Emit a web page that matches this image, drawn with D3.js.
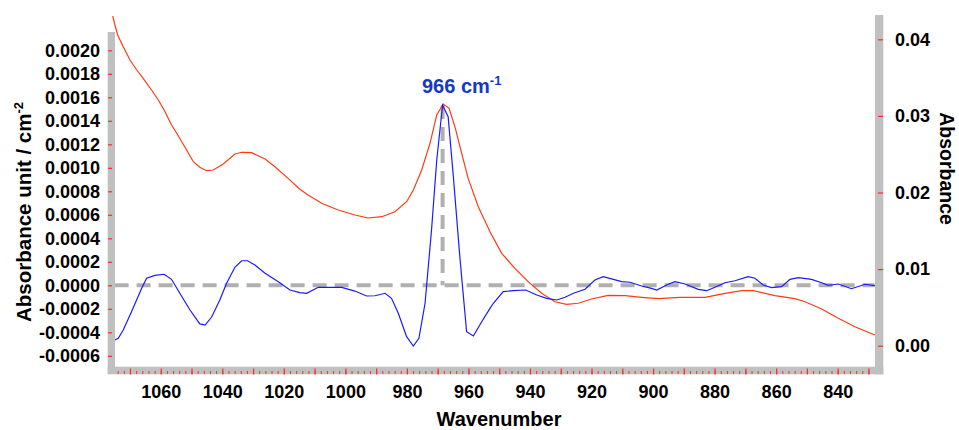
<!DOCTYPE html>
<html><head><meta charset="utf-8">
<script src="https://cdn.jsdelivr.net/npm/d3@7"></script>
<style>
body{margin:0;background:#fff}
svg{display:block}
text{font-family:"Liberation Sans",Arial,Helvetica,sans-serif;font-weight:bold;fill:#000}
</style>
</head><body>
<svg id="chart" width="959" height="430"></svg>
<script>
// ---- data ----
const blueWavenumber = [1074.9,1073.8,1072.2,1069.5,1066.2,1064.6,1061.9,1058.9,1056.5,1053.8,1050.5,1047.3,1045.6,1043.5,1040.8,1038.6,1035.9,1033.7,1031.8,1029.4,1026.1,1021.8,1018.0,1014.8,1012.6,1008.8,1001.2,996.9,993.1,990.4,987.1,985.0,982.8,980.1,977.9,976.1,974.1,972.0,970.3,968.4,966.6,964.9,962.8,960.6,958.4,955.7,953.0,951.9,948.7,945.4,941.4,937.8,934.6,931.3,928.6,925.9,922.1,918.9,916.2,912.9,910.2,907.5,903.7,900.5,898.8,895.6,892.9,889.6,885.3,882.6,879.9,876.6,873.4,869.1,866.9,864.2,861.5,858.2,855.5,852.8,848.5,845.2,843.1,839.8,835.5,831.1,827.9];
const blueValue = [-0.000466,-0.000451,-0.000380,-0.000225,-0.000026,0.000060,0.000085,0.000094,0.000051,-0.000068,-0.000210,-0.000329,-0.000338,-0.000272,-0.000125,0.000017,0.000153,0.000209,0.000209,0.000173,0.000102,0.000031,-0.000040,-0.000063,-0.000068,-0.000017,-0.000017,-0.000049,-0.000091,-0.000089,-0.000068,-0.000111,-0.000238,-0.000437,-0.000517,-0.000451,-0.000153,0.000471,0.001066,0.001534,0.001435,0.000924,0.000243,-0.000395,-0.000431,-0.000310,-0.000196,-0.000153,-0.000054,-0.000046,-0.000040,-0.000083,-0.000111,-0.000125,-0.000102,-0.000068,-0.000034,0.000045,0.000073,0.000051,0.000031,0.000026,-0.000006,-0.000026,-0.000040,0.000003,0.000031,0.000011,-0.000034,-0.000046,-0.000017,0.000022,0.000039,0.000073,0.000060,0.000003,-0.000020,-0.000012,0.000051,0.000065,0.000051,0.000022,0.000000,0.000011,-0.000029,0.000009,-0.000003];

const redWavenumber = [1075.6,1074.9,1074.0,1072.2,1070.0,1067.8,1065.7,1063.0,1060.8,1058.6,1056.5,1054.8,1051.6,1049.4,1047.3,1045.1,1042.9,1039.7,1035.9,1033.7,1030.5,1026.1,1022.9,1018.6,1014.8,1012.1,1007.7,1002.3,996.9,992.6,988.2,983.9,980.1,977.9,975.2,972.5,970.3,968.2,966.3,964.4,962.2,960.1,956.8,953.0,949.2,944.9,940.6,936.2,931.9,928.1,924.3,920.0,914.6,909.1,903.7,898.3,891.3,883.1,876.6,871.2,867.4,860.4,853.9,850.6,845.2,839.8,834.4,827.9];
const redAbsorbance = [0.04304,0.04187,0.04056,0.03903,0.03730,0.03599,0.03491,0.03338,0.03208,0.03055,0.02881,0.02773,0.02555,0.02402,0.02329,0.02285,0.02294,0.02372,0.02503,0.02525,0.02520,0.02437,0.02337,0.02185,0.02042,0.01967,0.01859,0.01772,0.01706,0.01667,0.01684,0.01749,0.01880,0.02033,0.02294,0.02642,0.03012,0.03155,0.03099,0.02859,0.02512,0.02185,0.01815,0.01488,0.01206,0.01010,0.00836,0.00684,0.00574,0.00540,0.00554,0.00610,0.00658,0.00653,0.00632,0.00614,0.00632,0.00632,0.00684,0.00718,0.00718,0.00653,0.00614,0.00574,0.00479,0.00358,0.00248,0.00140];

const leftTicks = [-0.0006,-0.0004,-0.0002,0.0000,0.0002,0.0004,0.0006,0.0008,0.0010,0.0012,0.0014,0.0016,0.0018,0.0020];
const rightTicks = [0.00,0.01,0.02,0.03,0.04];
const bottomTicks = [1060,1040,1020,1000,980,960,940,920,900,880,860,840];
const peakWavenumber = 968.4;
const peakValue = 0.001534;
const peakLabel = "966";

// ---- drawing ----
const svg = d3.select("#chart");
const x = d3.scaleLinear().domain([1075, 828]).range([114.6, 874.6]);
const yL = d3.scaleLinear().domain([0, 0.002]).range([285.3, 50.3]);
const yR = d3.scaleLinear().domain([0, 0.04]).range([345.7, 39.3]);

const fmtL = v => { const s = Math.abs(v) < 1e-12 ? "0.0000" : v.toFixed(4); return s; };
const fmtR = v => v.toFixed(2);

const GRAY = "#c0c0c0", RED_TICK = "#ff2a2a";

// dashed reference lines
const dash = "14,8";
svg.append("line")
  .attr("x1", x(1075)).attr("x2", x(828))
  .attr("y1", yL(0)).attr("y2", yL(0))
  .attr("stroke", "#b0b0b0").attr("stroke-width", 4).attr("stroke-dasharray", dash);
svg.append("line")
  .attr("x1", x(peakWavenumber)).attr("x2", x(peakWavenumber))
  .attr("y1", yL(peakValue)).attr("y2", yL(0))
  .attr("stroke", "#b0b0b0").attr("stroke-width", 4).attr("stroke-dasharray", dash);

// curves
const redLine = d3.line().x(d => x(d[0])).y(d => yR(d[1]));
const blueLine = d3.line().x(d => x(d[0])).y(d => yL(d[1]));
svg.append("path")
  .datum(d3.zip(redWavenumber, redAbsorbance))
  .attr("d", redLine).attr("fill", "none").attr("stroke", "#ff3b14").attr("stroke-width", 1.2);
svg.append("path")
  .datum(d3.zip(blueWavenumber, blueValue))
  .attr("d", blueLine).attr("fill", "none").attr("stroke", "#1a1aff").attr("stroke-width", 1.2);

// gray axis bars
svg.append("rect").attr("x", 107.7).attr("y", 32).attr("width", 7.3).attr("height", 342).attr("fill", GRAY);
svg.append("rect").attr("x", 107.7).attr("y", 366.7).attr("width", 775.6).attr("height", 7.6).attr("fill", GRAY);
svg.append("rect").attr("x", 875).attr("y", 15).attr("width", 8.3).attr("height", 359.3).attr("fill", GRAY);

function styleAxis(g, size) {
  g.select(".domain").remove();
  g.selectAll(".tick line").attr("stroke", RED_TICK).attr("stroke-width", 1.2);
  g.selectAll(".tick text").attr("font-size", size).attr("fill", "#000")
    .attr("font-family", '"Liberation Sans",Arial,sans-serif').attr("font-weight", "bold");
}

// left axis
const gL = svg.append("g").attr("transform", "translate(112,0)")
  .call(d3.axisLeft(yL).tickValues(leftTicks).tickFormat(fmtL).tickSize(4).tickPadding(8));
styleAxis(gL, 18);

// right axis
const gR = svg.append("g").attr("transform", "translate(878,0)")
  .call(d3.axisRight(yR).tickValues(rightTicks).tickFormat(fmtR).tickSize(5).tickPadding(12));
styleAxis(gR, 18);

// bottom axis: minor ticks, major ticks, labels
const minorTicks = d3.range(830, 1075, 2);
const majorTicks = d3.range(830, 1075, 10);
const gBm = svg.append("g").attr("transform", "translate(0,371)")
  .call(d3.axisBottom(x).tickValues(minorTicks).tickFormat("").tickSize(3));
styleAxis(gBm, 18);
gBm.selectAll(".tick line").attr("stroke-width", 1);
const gBM = svg.append("g").attr("transform", "translate(0,368.5)")
  .call(d3.axisBottom(x).tickValues(majorTicks).tickFormat("").tickSize(6));
styleAxis(gBM, 18);
const gB = svg.append("g").attr("transform", "translate(0,369)")
  .call(d3.axisBottom(x).tickValues(bottomTicks).tickFormat(d3.format("d")).tickSize(0).tickPadding(16));
styleAxis(gB, 18);

// axis titles
svg.append("text").attr("x", 499).attr("y", 426).attr("text-anchor", "middle")
  .attr("font-size", 20).text("Wavenumber");

const tl = svg.append("text").attr("transform", "translate(31,212) rotate(-90)")
  .attr("text-anchor", "middle").attr("font-size", 20.5);
tl.append("tspan").text("Absorbance unit / cm");
tl.append("tspan").attr("font-size", 13).attr("dy", -8).text("-2");

svg.append("text").attr("transform", "translate(940,168.5) rotate(90)")
  .attr("text-anchor", "middle").attr("font-size", 19.5).text("Absorbance");

// peak annotation
const ann = svg.append("text")
  .attr("x", x(peakWavenumber) - 20.6).attr("y", yL(peakValue) - 11.7)
  .attr("font-size", 20).style("fill", "#1438c8");
ann.append("tspan").text(peakLabel + " cm");
ann.append("tspan").attr("font-size", 13).attr("dy", -8).text("-1");
</script>
</body></html>
